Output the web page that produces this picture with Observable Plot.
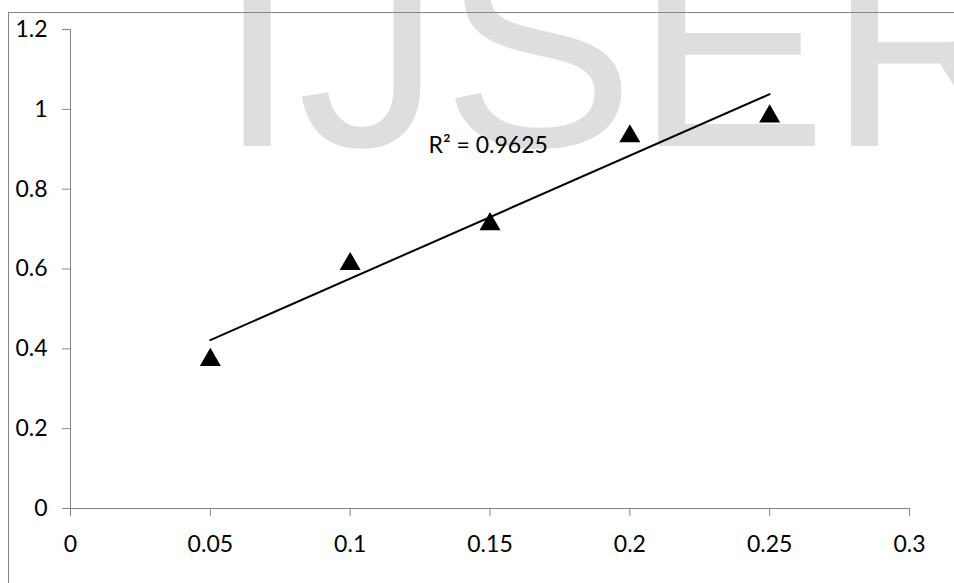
<!DOCTYPE html>
<html><head><meta charset="utf-8">
<script src="https://cdn.jsdelivr.net/npm/d3@7"></script>
<script src="https://cdn.jsdelivr.net/npm/@observablehq/plot@0.6"></script>
<style>
body{margin:0;background:#fff;}
#wrap{position:relative;width:954px;height:583px;overflow:hidden;background:#fff;}
#wm{position:absolute;left:0;top:0;}
#chart{position:absolute;left:0;top:0;}
#border{position:absolute;left:8px;top:12px;width:980px;height:620px;border-left:1px solid #868686;border-top:1px solid #868686;pointer-events:none;}
</style></head><body>
<div id="wrap">
<svg id="wm" width="954" height="583"><text x="217" y="146" font-family="Liberation Sans, Arial, sans-serif" font-size="289" fill="#dedede">IJSER</text></svg>
<div id="chart"></div>
<div id="border"></div>
</div>
<script>
const xValues = [0.05, 0.1, 0.15, 0.2, 0.25];
const yValues = [0.38, 0.62, 0.72, 0.94, 0.99];
const xTicks = [0, 0.05, 0.1, 0.15, 0.2, 0.25, 0.3];
const xTickLabels = ["0", "0.05", "0.1", "0.15", "0.2", "0.25", "0.3"];
const yTicks = [0, 0.2, 0.4, 0.6, 0.8, 1, 1.2];
const yTickLabels = ["0", "0.2", "0.4", "0.6", "0.8", "1", "1.2"];
const r2LabelPos = [0.128, 0.91];

const data = xValues.map((x, i) => ({x, y: yValues[i]}));

// R² of the linear fit
const mx = d3.mean(xValues), my = d3.mean(yValues);
const sxy = d3.sum(data, d => (d.x - mx) * (d.y - my));
const sxx = d3.sum(data, d => (d.x - mx) ** 2);
const syy = d3.sum(data, d => (d.y - my) ** 2);
const r2 = (sxy * sxy) / (sxx * syy);
const r2Text = "R\u00B2 = " + r2.toFixed(4);

const gray = "#868686";
const fs = 23;
const chart = Plot.plot({
  width: 954,
  height: 583,
  marginLeft: 70,
  marginRight: 45,
  marginTop: 29,
  marginBottom: 75,
  style: {fontFamily: "Lato, 'Noto Sans', sans-serif", fontSize: fs + "px", color: "black", background: "transparent", overflow: "visible"},
  x: {domain: [0, 0.3]},
  y: {domain: [0, 1.2]},
  marks: [
    Plot.ruleY([0], {stroke: gray}),
    Plot.ruleX([0], {stroke: gray}),
    Plot.axisX({ticks: xTicks, tickSize: 8, tickPadding: 19, stroke: gray, fill: "black", fontSize: fs,
      tickFormat: (d) => xTickLabels[xTicks.indexOf(d)], label: null}),
    Plot.axisY({ticks: yTicks, tickSize: 8, tickPadding: 15, stroke: gray, fill: "black", fontSize: fs,
      tickFormat: (d) => yTickLabels[yTicks.indexOf(d)], label: null}),
    Plot.linearRegressionY(data, {x: "x", y: "y", stroke: "black", strokeWidth: 2, ci: 0}),
    Plot.dot(data, {x: "x", y: "y", symbol: "triangle", r: 7.8, fill: "black", stroke: "none", dy: 3}),
    Plot.text([{x: r2LabelPos[0], y: r2LabelPos[1], t: r2Text}], {x: "x", y: "y", text: "t", textAnchor: "start", fontSize: fs, fill: "black"})
  ]
});
document.getElementById("chart").appendChild(chart);
</script>
</body></html>
